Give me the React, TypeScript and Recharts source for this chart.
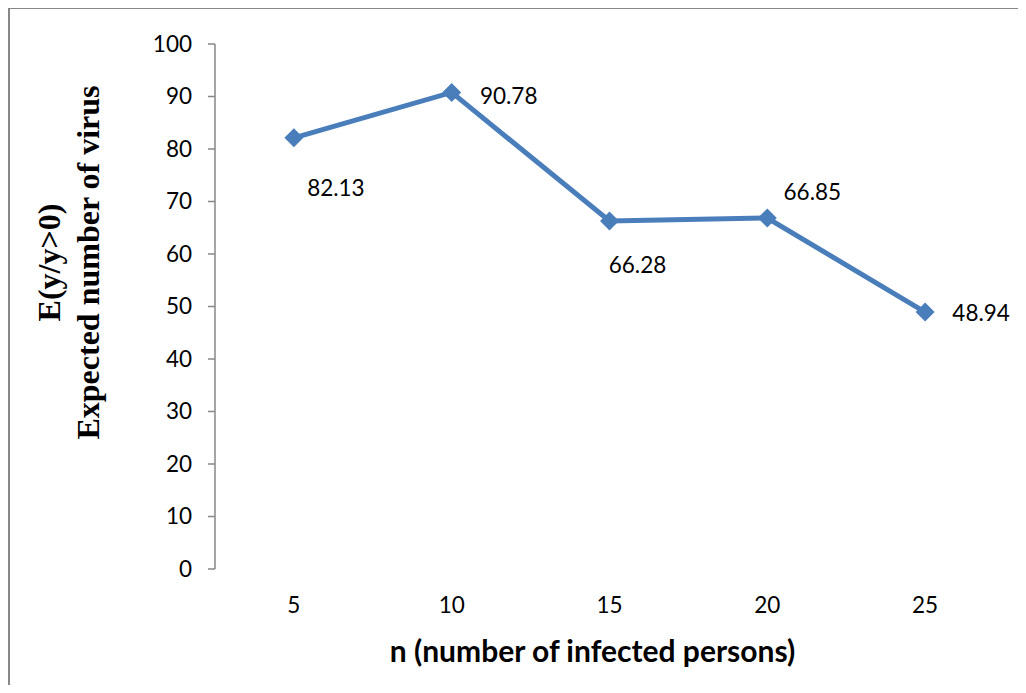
import React from 'react';
import { LineChart, Line, XAxis, YAxis, LabelList } from 'recharts';

const categories = [5, 10, 15, 20, 25];
const expected = [82.13, 90.78, 66.28, 66.85, 48.94];
const yTicks = [0, 10, 20, 30, 40, 50, 60, 70, 80, 90, 100];
const bandTicks = [0, 1, 2, 3, 4, 5];

const data = categories.map((n, i) => ({ n, value: expected[i] }));

const BLUE = '#4a7ebb';
const AXIS = '#878787';
const FONT = 'Lato, "Open Sans", sans-serif';

// Excel-style manual label placement (offset of text centre from its point)
const labelOffsets = [
  { dx: 42, dy: 50 },
  { dx: 57, dy: 3 },
  { dx: 28, dy: 43 },
  { dx: 45, dy: -27 },
  { dx: 56, dy: 0 },
];

const Diamond = (props: any) => {
  const { cx, cy } = props;
  if (cx == null || cy == null) return null;
  const r = 9.5;
  return (
    <polygon
      points={`${cx},${cy - r} ${cx + r},${cy} ${cx},${cy + r} ${cx - r},${cy}`}
      fill={BLUE}
    />
  );
};

const PointLabel = (props: any) => {
  const { x, y, value, index } = props;
  const off = labelOffsets[index] || { dx: 0, dy: -20 };
  return (
    <text
      x={x + off.dx}
      y={y + off.dy}
      textAnchor="middle"
      dominantBaseline="central"
      fontFamily={FONT}
      fontSize={22.5}
      fill="#000"
    >
      {value.toFixed(2)}
    </text>
  );
};

const YTitle = (props: any) => {
  const { viewBox } = props;
  const cy = viewBox.y + viewBox.height / 2 - 44;
  const style = { fontFamily: '"Liberation Serif", "Times New Roman", serif', fontWeight: 700, fontSize: 32 };
  return (
    <g>
      <text x={39} y={cy} transform={`rotate(-90 39 ${cy})`} textAnchor="middle" dominantBaseline="central" style={style}>
        E(y/y&gt;0)
      </text>
      <text x={78} y={cy} transform={`rotate(-90 78 ${cy})`} textAnchor="middle" dominantBaseline="central" style={style}>
        Expected number of virus
      </text>
    </g>
  );
};

const XTitle = (props: any) => {
  const { viewBox } = props;
  const cx = viewBox.x + viewBox.width / 2 - 17;
  return (
    <text
      x={cx}
      y={641}
      textAnchor="middle"
      dominantBaseline="central"
      fontFamily={FONT}
      fontWeight={700}
      fontSize={30}
      fill="#000"
    >
      n (number of infected persons)
    </text>
  );
};

export default function App() {
  return (
    <div
      style={{
        width: 1009,
        height: 676,
        borderTop: `1px solid ${AXIS}`,
        borderLeft: `2px solid ${AXIS}`,
        overflow: 'hidden',
        background: '#fff',
      }}
    >
      <LineChart width={1009} height={676} data={data} margin={{ top: 35, right: 15, bottom: 0, left: 0 }}>
        <XAxis
          xAxisId="band"
          type="number"
          domain={[0, 5]}
          ticks={bandTicks}
          allowDataOverflow
          height={0}
          tick={false}
          tickSize={7}
          tickLine={{ stroke: AXIS, strokeWidth: 1.5 }}
          axisLine={{ stroke: AXIS, strokeWidth: 1.5 }}
        />
        <XAxis
          xAxisId="cat"
          dataKey="n"
          type="category"
          scale="band"
          height={116}
          axisLine={false}
          tickLine={false}
          tickSize={0}
          tickMargin={28}
          tick={{ fill: '#000', fontSize: 22.5, fontFamily: FONT }}
          label={<XTitle />}
        />
        <YAxis
          width={205}
          domain={[0, 100]}
          ticks={yTicks}
          interval={0}
          tickSize={7}
          tickMargin={16}
          tickLine={{ stroke: AXIS, strokeWidth: 1.5 }}
          axisLine={{ stroke: AXIS, strokeWidth: 1.5 }}
          tick={{ fill: '#000', fontSize: 22.5, fontFamily: FONT }}
          label={<YTitle />}
        />
        <Line
          xAxisId="cat"
          type="linear"
          dataKey="value"
          stroke={BLUE}
          strokeWidth={5}
          dot={<Diamond />}
          activeDot={false}
          isAnimationActive={false}
        >
          <LabelList dataKey="value" content={<PointLabel />} />
        </Line>
      </LineChart>
    </div>
  );
}
